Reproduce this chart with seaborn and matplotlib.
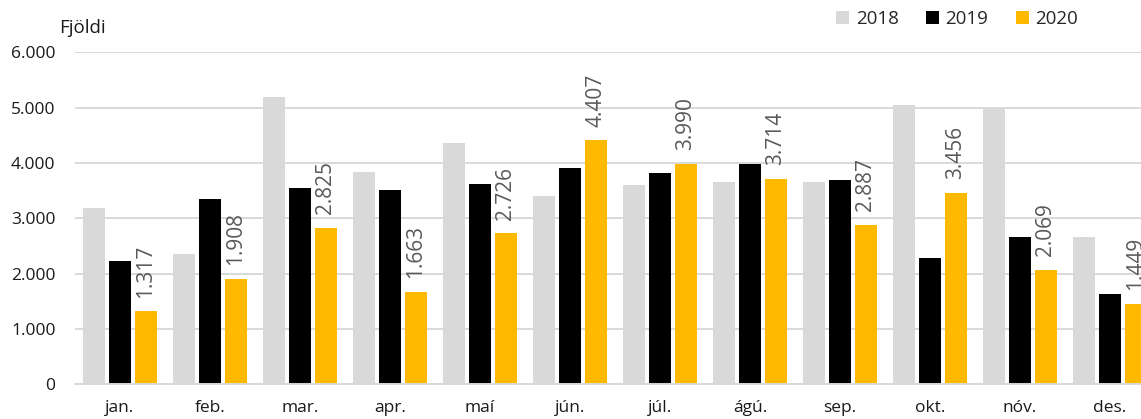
import matplotlib
matplotlib.use("Agg")
import matplotlib.pyplot as plt
import pandas as pd
import seaborn as sns

months = ["jan.", "feb.", "mar.", "apr.", "maí", "jún.", "júl.", "ágú.", "sep.", "okt.", "nóv.", "des."]
years = ["2018", "2019", "2020"]
values_2018 = [3190, 2350, 5195, 3840, 4355, 3400, 3595, 3655, 3655, 5045, 4985, 2670]
values_2019 = [2225, 3345, 3545, 3505, 3620, 3900, 3810, 3980, 3690, 2275, 2655, 1625]
values_2020 = [1317, 1908, 2825, 1663, 2726, 4407, 3990, 3714, 2887, 3456, 2069, 1449]
colors = ["#D9D9D9", "#000000", "#FFB900"]
y_ticks = [0, 1000, 2000, 3000, 4000, 5000, 6000]

df = pd.DataFrame({
    "month": months * 3,
    "year": [y for y in years for _ in months],
    "value": values_2018 + values_2019 + values_2020,
})


def isl(v):
    return f"{v:,.0f}".replace(",", ".")


sns.set_style("white")
plt.rcParams["font.family"] = ["Open Sans", "DejaVu Sans"]

fig = plt.figure(figsize=(11.41, 4.19), dpi=100)
ax = fig.add_axes([0.0657, 0.0828, 0.9466, 0.7924])

sns.barplot(data=df, x="month", y="value", hue="year", order=months, hue_order=years,
            palette=colors, saturation=1, width=0.86, gap=0.167, linewidth=0, ax=ax)

ax.set_xlim(-0.5, 11.5)
ax.set_ylim(0, 6000)
ax.set_yticks(y_ticks)
ax.set_yticklabels([isl(t) for t in y_ticks])
ax.set_xlabel("")
ax.set_ylabel("")
ax.set_axisbelow(True)
ax.yaxis.grid(True, color="#D9D9D9", linewidth=1.4)
ax.xaxis.grid(False)
for side in ["top", "right", "left"]:
    ax.spines[side].set_visible(False)
ax.spines["bottom"].set_color("#D9D9D9")
ax.spines["bottom"].set_linewidth(1.4)
ax.tick_params(axis="y", length=0, pad=14, labelsize=12.5, labelcolor="#1a1a1a")
ax.tick_params(axis="x", length=0, pad=11, labelsize=12.5, labelcolor="#1a1a1a")

# labels only on the 2020 bars
ax.bar_label(ax.containers[2], labels=[isl(v) for v in values_2020], rotation=90,
             padding=10, fontsize=15, color="#595959", clip_on=False)

handles, labels = ax.get_legend_handles_labels()
if ax.get_legend() is not None:
    ax.get_legend().remove()
fig.legend(handles, labels, loc="center left", bbox_to_anchor=(836 / 1141, 1 - 19.5 / 419),
           ncol=3, frameon=False, fontsize=13.5, handlelength=0.7, handleheight=0.7,
           handletextpad=0.35, columnspacing=1.45, borderpad=0, borderaxespad=0)

fig.text(59 / 1141, 1 - 33 / 419, "Fjöldi", fontsize=13.5, color="#1a1a1a", va="baseline")

fig.savefig("out.png", dpi=100)
